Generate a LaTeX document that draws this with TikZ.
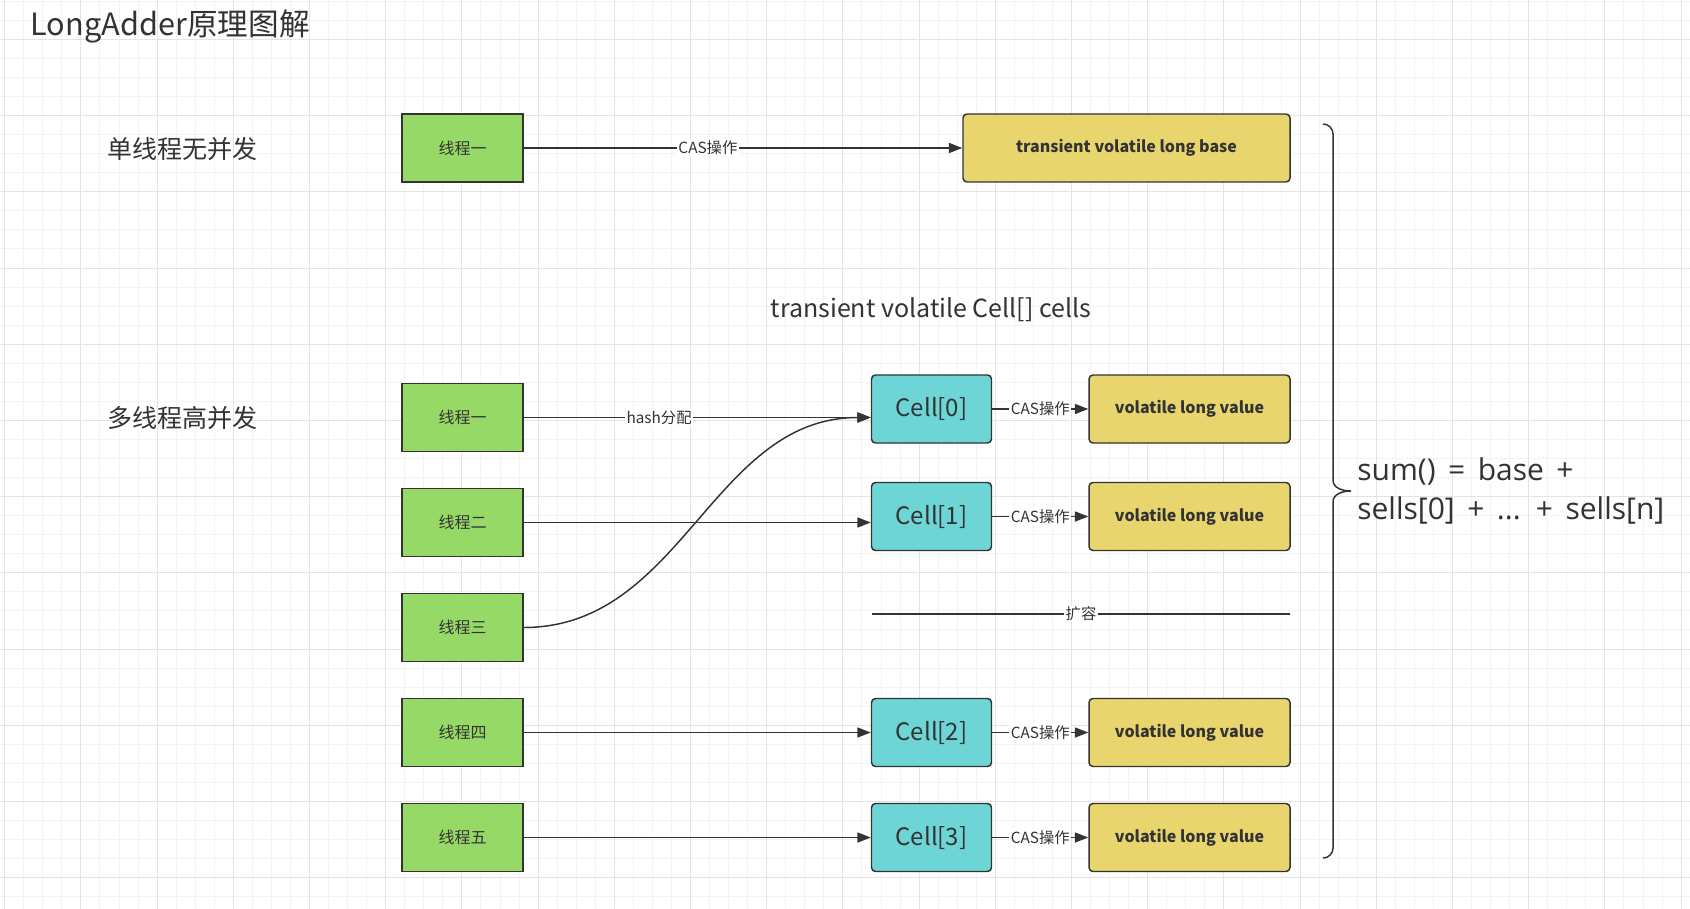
\documentclass[tikz,border=0pt]{standalone}
\usepackage{fontspec}
\setmainfont{Noto Sans CJK SC}
\newfontfamily\sumfont[WordSpace=1.6]{Open Sans}
\usetikzlibrary{arrows.meta, positioning}
\definecolor{threadgreen}{HTML}{97D966}
\definecolor{cellcyan}{HTML}{6ED5D6}
\definecolor{valueyellow}{HTML}{E9D56D}
\definecolor{edgegray}{HTML}{333333}
\definecolor{gridmajor}{HTML}{E4E4E4}
\definecolor{gridminor}{HTML}{F3F3F3}
\tikzstyle{threadbox} = [rectangle, minimum width=90.75pt, minimum height=51pt, inner sep=0pt, text centered, draw=edgegray, line width=1.1pt, fill=threadgreen, text=edgegray, font=\fontsize{12}{14}\selectfont]
\tikzstyle{cellbox} = [rectangle, rounded corners=3pt, minimum width=90pt, minimum height=51pt, inner sep=0pt, text centered, draw=edgegray, line width=1.1pt, fill=cellcyan, text=edgegray, font=\fontsize{18}{22}\selectfont]
\tikzstyle{valuebox} = [rectangle, rounded corners=3pt, minimum width=150.75pt, minimum height=51pt, inner sep=0pt, text centered, draw=edgegray, line width=1.1pt, fill=valueyellow, text=edgegray, font=\bfseries\fontsize{12}{14}\selectfont]
\tikzstyle{edgelabel} = [fill=white, inner sep=1pt, text=edgegray, font=\fontsize{11.5}{13}\selectfont]
\tikzstyle{caption} = [text=edgegray, font=\fontsize{18.75}{22}\selectfont]
\tikzstyle{arrow} = [line width=1.1pt, draw=edgegray, -{Triangle[length=10pt, width=7.5pt]}]

\begin{document}
\begin{tikzpicture}[x=0.75pt, y=-0.75pt, node distance=78.75pt]
    \useasboundingbox (0,0) rectangle (1690,909);
    \fill[white] (0,0) rectangle (1690,909);
    % background grid
    \foreach \i in {0,...,88}
        \draw[gridminor, line width=0.75pt] ({4.7+19.05*\i},0) -- ({4.7+19.05*\i},909);
    \foreach \j in {0,...,47}
        \draw[gridminor, line width=0.75pt] (0,{1.3+19.05*\j}) -- (1690,{1.3+19.05*\j});
    \foreach \i in {0,...,22}
        \draw[gridmajor, line width=0.75pt] ({4.7+76.2*\i},0) -- ({4.7+76.2*\i},909);
    \foreach \j in {0,...,11}
        \draw[gridmajor, line width=0.75pt] (0,{39.4+76.2*\j}) -- (1690,{39.4+76.2*\j});

    \node (title) [anchor=base west, text=edgegray, font=\fontsize{23}{27}\selectfont] at (26,36) {LongAdder原理图解};
    \node (single) [caption] at (182,149) {单线程无并发};
    \node (multi) [caption] at (182,418) {多线程高并发};
    \node (cells) [caption] at (931,310) {transient volatile Cell[] cells};

    \node (t0) [threadbox] at (462.5,148) {线程一};
    \node (base) [valuebox, right of=t0, xshift=419.25pt, minimum width=245.25pt] {transient volatile long base};

    \node (t1) [threadbox] at (462.5,417.5) {线程一};
    \node (t2) [threadbox, below of=t1] {线程二};
    \node (t3) [threadbox, below of=t2] {线程三};
    \node (t4) [threadbox, below of=t3] {线程四};
    \node (t5) [threadbox, below of=t4] {线程五};

    \node (c0) [cellbox] at (931.5,409) {Cell[0]};
    \node (c1) [cellbox] at (931.5,516.5) {Cell[1]};
    \node (c2) [cellbox, right of=t4, xshift=273pt] {Cell[2]};
    \node (c3) [cellbox, right of=t5, xshift=273pt] {Cell[3]};
    \foreach \i in {0,...,3}
        \node (v\i) [valuebox, right of=c\i, xshift=114.75pt] {volatile long value};

    \coordinate (g1) at (872,614);
    \coordinate (g2) at (1290,614);
    \node (sum) [anchor=west, align=left, inner sep=0pt, text=edgegray, font=\sumfont\fontsize{22.5}{29.25}\selectfont] at (1357,491) {sum() = base +\\sells[0] + ... + sells[n]};

    \draw [arrow] (t0) -- node[edgelabel, pos=0.42] {CAS操作} (base);
    \draw [arrow] (t1) -- node[edgelabel, pos=0.39] {hash分配} (t1 -| c0.west);
    \draw [arrow] (t2) -- (t2 -| c1.west);
    \draw [arrow] (t3.east) to[out=0, in=180] (t1 -| c0.west);
    \draw [arrow] (t4) -- (c2);
    \draw [arrow] (t5) -- (c3);
    \foreach \i in {0,...,3}
        \draw [arrow] (c\i) -- node[edgelabel] {CAS操作} (v\i);
    \draw [line width=1.1pt, edgegray] (g1) -- node[edgelabel] {扩容} (g2);

    % brace
    \draw [line width=1.1pt, edgegray] (1323,124) to[out=0, in=90] (1333,134) -- (1333,480)
        to[out=-90, in=180] (1351,491) to[out=180, in=90] (1333,502) -- (1333,848)
        to[out=-90, in=0] (1323,858);
\end{tikzpicture}
\end{document}
